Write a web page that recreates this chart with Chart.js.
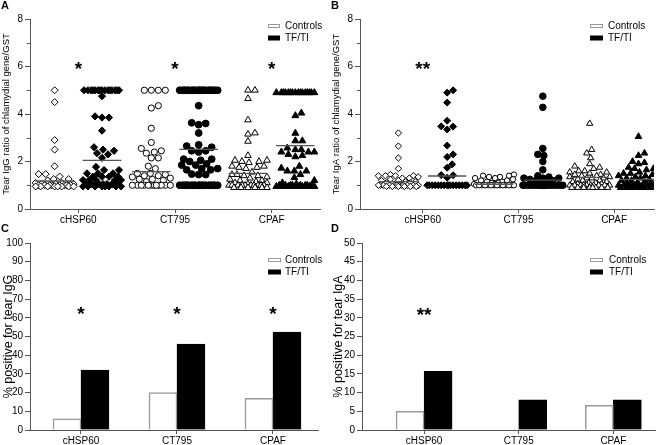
<!DOCTYPE html>
<html><head><meta charset="utf-8">
<script src="https://cdn.jsdelivr.net/npm/chart.js@4.4.0/dist/chart.umd.min.js"></script>
<style>
html,body{margin:0;padding:0;background:#fff;}
#wrap{position:relative;width:659px;height:445px;overflow:hidden;background:#fff;}
.p{position:absolute;}
</style></head><body>
<div id="wrap">
 <div class="p" style="left:0;top:0;width:330px;height:226px"><canvas id="cA"></canvas></div>
 <div class="p" style="left:330px;top:0;width:329px;height:226px"><canvas id="cB"></canvas></div>
 <div class="p" style="left:0;top:220px;width:330px;height:225px"><canvas id="cC"></canvas></div>
 <div class="p" style="left:330px;top:220px;width:329px;height:225px"><canvas id="cD"></canvas></div>
</div>
<script>
// ---------- DATA ----------
const categories = ['cHSP60', 'CT795', 'CPAF'];
const seriesNames = ['Controls', 'TF/TI'];

// Panel A: tear IgG ratio of chlamydial gene/GST
const igG_cHSP60_controls = [5.0, 4.5, 2.9, 2.5, 1.8, 1.47, 1.47, 1.37, 1.26, 1.26, 1.2, 1.1, 1.1, 1.05, 1.05, 1.05, 1.0, 1.0, 1.0, 1.0, 1.0, 1.0, 1.0, 1.0, 0.95, 0.95, 0.95, 0.95, 0.95, 0.95, 0.95, 0.95];
const igG_cHSP60_tfti = [5.0, 5.0, 5.0, 5.0, 5.0, 5.0, 5.0, 5.0, 5.0, 5.0, 5.0, 5.0, 5.0, 5.0, 5.0, 4.75, 3.9, 3.85, 3.85, 3.3, 2.6, 2.5, 2.45, 2.35, 2.3, 2.15, 1.77, 1.64, 1.64, 1.5, 1.5, 1.5, 1.36, 1.36, 1.36, 1.36, 1.22, 1.22, 1.22, 1.22, 1.22, 1.05, 1.05, 1.05, 1.05, 1.05, 1.05, 1.05, 0.95, 0.95, 0.95, 0.95, 0.95, 0.95, 0.95, 0.95];
const igG_CT795_controls = [5.0, 5.0, 5.0, 5.0, 4.35, 4.25, 3.4, 2.8, 2.55, 2.45, 2.4, 2.35, 2.15, 2.15, 1.8, 1.7, 1.5, 1.5, 1.45, 1.4, 1.4, 1.35, 1.3, 1.25, 1.25, 1.2, 1.15, 1.0, 1.0, 1.0, 1.0, 1.0, 1.0, 1.0, 1.0, 1.0, 1.0, 1.0, 1.0];
const igG_CT795_tfti = [5.0, 5.0, 5.0, 5.0, 5.0, 5.0, 5.0, 5.0, 5.0, 5.0, 5.0, 5.0, 5.0, 5.0, 5.0, 5.0, 5.0, 5.0, 4.35, 3.63, 3.6, 3.55, 3.2, 2.7, 2.65, 2.6, 2.45, 2.45, 2.4, 2.1, 2.1, 2.05, 2.0, 1.9, 1.85, 1.85, 1.7, 1.7, 1.65, 1.65, 1.47, 1.45, 1.45, 1.0, 1.0, 1.0, 1.0, 1.0, 1.0, 1.0, 1.0, 1.0, 1.0, 1.0, 1.0, 1.0, 1.0, 1.0, 1.0, 1.0, 1.0];
const igG_CPAF_controls = [5.0, 5.0, 4.65, 3.75, 3.2, 3.15, 2.85, 2.25, 2.05, 2.05, 2.0, 2.0, 1.95, 1.8, 1.8, 1.75, 1.75, 1.7, 1.55, 1.45, 1.45, 1.4, 1.4, 1.35, 1.3, 1.25, 1.2, 1.2, 1.15, 1.1, 1.1, 1.05, 1.0, 1.0, 1.0, 1.0, 1.0, 1.0, 1.0, 1.0, 1.0, 1.0, 0.9, 0.9, 0.9, 0.9, 0.9, 0.9];
const igG_CPAF_tfti = [4.9, 4.9, 4.9, 4.9, 4.9, 4.9, 4.9, 4.9, 4.9, 4.9, 4.9, 4.9, 4.9, 4.9, 4.9, 4.9, 4.04, 3.93, 3.19, 2.87, 2.87, 2.57, 2.5, 2.5, 2.4, 2.4, 2.4, 2.3, 2.25, 2.2, 1.8, 1.72, 1.6, 1.6, 1.6, 1.45, 1.32, 1.2, 1.1, 1.05, 1.0, 1.0, 1.0, 1.0, 1.0, 1.0, 1.0, 1.0, 0.95, 0.95, 0.95, 0.95, 0.95, 0.95, 0.95, 0.95];
const igG_lines_controls = [1.18, 1.57, 1.5];
const igG_lines_tfti = [2.05, 2.51, 2.67];

// Panel B: tear IgA ratio of chlamydial gene/GST
const igA_cHSP60_controls = [3.2, 2.65, 2.15, 1.7, 1.45, 1.4, 1.4, 1.4, 1.4, 1.35, 1.3, 1.3, 1.25, 1.2, 1.2, 1.15, 1.15, 1.1, 1.1, 1.05, 1.0, 1.0, 1.0, 1.0, 1.0, 1.0, 1.0, 1.0, 1.0, 1.0, 1.0, 1.0, 0.95, 0.95, 0.95, 0.95, 0.95, 0.95];
const igA_cHSP60_tfti = [5.0, 4.9, 4.48, 3.72, 3.48, 3.47, 3.35, 2.67, 2.3, 2.19, 1.88, 1.74, 1.43, 1.42, 1.32, 1.0, 1.0, 1.0, 1.0, 1.0, 1.0, 1.0, 1.0, 1.0, 1.0, 1.0, 1.0, 1.0, 1.0, 1.0, 1.0];
const igA_CT795_controls = [1.45, 1.4, 1.4, 1.35, 1.35, 1.3, 1.3, 1.25, 1.2, 1.2, 1.15, 1.15, 1.1, 1.1, 1.05, 1.05, 1.0, 1.0, 1.0, 1.0, 1.0, 1.0, 1.0, 1.0, 1.0, 1.0, 1.0, 1.0, 1.0, 1.0];
const igA_CT795_tfti = [4.75, 4.28, 2.55, 2.3, 2.25, 2.0, 1.65, 1.4, 1.35, 1.3, 1.3, 1.3, 1.25, 1.2, 1.2, 1.15, 1.1, 1.0, 1.0, 1.0, 1.0, 1.0, 1.0, 1.0, 1.0, 1.0, 1.0, 1.0, 1.0, 1.0, 1.0, 1.0, 1.0, 1.0, 1.0];
const igA_CPAF_controls = [3.6, 2.5, 2.35, 2.15, 1.9, 1.8, 1.75, 1.7, 1.6, 1.6, 1.55, 1.55, 1.5, 1.45, 1.45, 1.4, 1.4, 1.35, 1.35, 1.3, 1.3, 1.3, 1.25, 1.2, 1.2, 1.15, 1.15, 1.1, 1.1, 1.05, 1.05, 1.0, 1.0, 1.0, 1.0, 1.0, 1.0, 1.0, 1.0, 1.0, 1.0, 0.9, 0.9, 0.9, 0.9, 0.9, 0.9, 0.9, 0.9];
const igA_CPAF_tfti = [3.05, 2.35, 2.25, 2.0, 1.95, 1.9, 1.75, 1.7, 1.7, 1.65, 1.55, 1.5, 1.5, 1.45, 1.4, 1.4, 1.35, 1.35, 1.3, 1.3, 1.25, 1.2, 1.2, 1.15, 1.15, 1.1, 1.1, 1.05, 1.0, 1.0, 1.0, 1.0, 1.0, 1.0, 1.0, 1.0, 1.0, 1.0, 0.9, 0.9, 0.9, 0.9, 0.9, 0.9, 0.9, 0.9];
const igA_lines_controls = [1.15, 1.04, 1.33];
const igA_lines_tfti = [1.39, 1.22, 1.25];

// Panel C / D: % positive
const pctIgG_controls = [6, 20, 17];
const pctIgG_tfti = [32, 46, 52.4];
const pctIgA_controls = [5, 0, 6.6];
const pctIgA_tfti = [15.7, 8.1, 8.1];

// significance marks
const sigIgG = ['*', '*', '*'];
const sigIgA = ['**', '', ''];

// ---------- STYLE / HELPERS ----------
const NARROW = "'Liberation Sans Narrow','Liberation Sans',Arial,sans-serif";
const REG = "'Liberation Sans',Arial,sans-serif";
Chart.defaults.font.family = NARROW;
Chart.defaults.color = '#000';
const AXIS = '#555';

const panelDecor = {
  id: 'panelDecor',
  afterDraw(chart, args, o) {
    if (!o || !o.letter) return;
    const ctx = chart.ctx;
    const xs = chart.scales.x, ys = chart.scales.y;
    ctx.save();
    // minor ticks (shorter)
    if (o.minor) {
      ctx.strokeStyle = AXIS; ctx.lineWidth = 1;
      ys.ticks.forEach(t => {
        if (t.label !== '') return;
        const y = Math.round(ys.getPixelForValue(t.value)) + 0.5;
        ctx.beginPath(); ctx.moveTo(chart.chartArea.left - 3, y); ctx.lineTo(chart.chartArea.left, y); ctx.stroke();
      });
    }
    ctx.fillStyle = '#000';
    ctx.font = "bold 11px " + REG;
    ctx.textAlign = 'left'; ctx.textBaseline = 'alphabetic';
    ctx.fillText(o.letter, o.letterX, o.letterY);
    const lg = o.legend;
    ctx.font = "10px " + NARROW;
    ctx.textBaseline = 'middle';
    seriesNames.forEach((name, k) => {
      const y = lg.y + k * lg.dy;
      if (k === 0) { ctx.strokeStyle = '#999'; ctx.lineWidth = 1; ctx.strokeRect(Math.round(lg.x) + 0.5, Math.round(y - 2) + 0.5, lg.w, 3); }
      else { ctx.fillStyle = '#000'; ctx.fillRect(lg.x, y - 2.5, lg.w + 1, 5); }
      ctx.fillStyle = '#000';
      ctx.fillText(name, lg.tx, y);
    });
    ctx.font = "bold 19px " + REG;
    ctx.textAlign = 'center'; ctx.textBaseline = 'alphabetic';
    o.sig.forEach((s, i) => { if (!s) return; ctx.fillText(s, xs.getPixelForValue(i), ys.getPixelForValue(o.sigY) + 11); });
    ctx.restore();
  }
};
Chart.register(panelDecor);

// deterministic beeswarm: horizontal offsets computed from the values
function swarm(values, center, pxX, pxY, maxHalf, dot) {
  const order = values.map((v, i) => i).sort((a, b) => values[a] - values[b]);
  const placed = [];
  const out = new Array(values.length);
  for (const i of order) {
    const py = values[i] * pxY;
    let best = 0, bestScore = -1, found = null;
    for (let k = 0; k <= 2 * maxHalf; k++) {
      const off = k % 2 ? (k + 1) / 2 : -k / 2;
      let md = Infinity;
      for (const p of placed) { const d = Math.hypot(p.x - off, p.y - py); if (d < md) md = d; }
      if (md >= dot) { found = off; break; }
      if (md > bestScore + 0.01) { bestScore = md; best = off; }
    }
    const off = found !== null ? found : best;
    placed.push({ x: off, y: py });
    out[i] = { x: center + off / pxX, y: values[i] };
  }
  return out;
}

function xAxis(min, max, h) {
  return {
    type: 'linear', min, max, offset: false,
    afterBuildTicks: s => { s.ticks = categories.map((c, i) => ({ value: i })); },
    ticks: { callback: v => categories[v], font: { size: 10 }, color: '#000', padding: 1, autoSkip: false, maxRotation: 0, minRotation: 0 },
    grid: { drawOnChartArea: false, tickLength: 4, color: AXIS, offset: false },
    border: { color: AXIS, width: 1 },
    afterFit: s => { s.height = h; }
  };
}
function yAxis(max, step, labelEvery, title, titleSize, w) {
  return {
    min: 0, max,
    ticks: { stepSize: step, callback: v => (Math.round(v / step) % labelEvery === 0 ? v : ''), font: { size: 10 }, color: '#000', padding: 2 },
    grid: { drawOnChartArea: false, tickLength: 5, color: AXIS,
            tickColor: c => (c.tick && c.tick.label === '' ? 'rgba(0,0,0,0)' : AXIS) },
    border: { color: AXIS, width: 1 },
    title: { display: true, text: title, font: { size: titleSize, family: REG }, color: '#000', padding: { top: 1, bottom: 0 } },
    afterFit: s => { s.width = w; }
  };
}

function scatterPanel(id, groups, linesC, linesT, cfg) {
  const styles = ['rectRot', 'circle', 'triangle'];
  const datasets = [];
  categories.forEach((c, i) => {
    [0, 1].forEach(k => {
      const center = i + (k === 0 ? -cfg.off : cfg.off);
      const vals = groups[i][k];
      datasets.push({
        type: 'scatter', order: 2,
        data: swarm(vals, center, cfg.pxX, cfg.pxY, cfg.maxHalf, cfg.dot),
        pointStyle: styles[i],
        pointRadius: cfg.radius[i][k],
        pointBorderWidth: 1,
        pointBorderColor: '#000',
        pointBackgroundColor: k === 0 ? '#fff' : '#000'
      });
      const m = (k === 0 ? linesC : linesT)[i];
      datasets.push({
        type: 'line', order: 1,
        data: [{ x: center - cfg.lineHalf, y: m }, { x: center + cfg.lineHalf, y: m }],
        borderColor: '#555', borderWidth: 1.3, pointRadius: 0, fill: false
      });
    });
  });
  return new Chart(document.getElementById(id), {
    type: 'scatter',
    data: { datasets },
    options: {
      responsive: true, maintainAspectRatio: false, animation: false, events: [],
      layout: { padding: cfg.padding },
      scales: { x: xAxis(cfg.xmin, cfg.xmax, cfg.xh), y: yAxis(8, 1, 2, cfg.title, 9.5, cfg.yw) },
      plugins: { legend: { display: false }, tooltip: { enabled: false }, panelDecor: cfg.decor }
    }
  });
}

function barPanel(id, ctrl, tf, cfg) {
  return new Chart(document.getElementById(id), {
    type: 'bar',
    data: {
      datasets: [
        { label: seriesNames[0], data: ctrl.map((v, i) => ({ x: i, y: v })), backgroundColor: '#fff', borderColor: '#999', borderWidth: 1.5, barThickness: cfg.bw },
        { label: seriesNames[1], data: tf.map((v, i) => ({ x: i, y: v })), backgroundColor: '#000', borderColor: '#000', borderWidth: 1, barThickness: cfg.bw }
      ]
    },
    options: {
      responsive: true, maintainAspectRatio: false, animation: false, events: [],
      layout: { padding: cfg.padding },
      scales: { x: xAxis(cfg.xmin, cfg.xmax, cfg.xh), y: yAxis(cfg.ymax, cfg.step, 1, cfg.title, 12.5, cfg.yw) },
      plugins: { legend: { display: false }, tooltip: { enabled: false }, panelDecor: cfg.decor }
    }
  });
}

scatterPanel('cA',
  [[igG_cHSP60_controls, igG_cHSP60_tfti], [igG_CT795_controls, igG_CT795_tfti], [igG_CPAF_controls, igG_CPAF_tfti]],
  igG_lines_controls, igG_lines_tfti,
  { xmin: -0.5, xmax: 2.5, xh: 17, yw: 30, off: 0.245, pxX: 96.7, pxY: 23.75, maxHalf: 19, dot: 6.5, lineHalf: 0.2,
    radius: [[3.5, 3.6], [3.1, 3.4], [3.8, 4.0]],
    padding: { left: 0, top: 19, right: 10, bottom: 0 },
    title: 'Tear IgG ratio of chlamydial gene/GST',
    decor: { letter: 'A', letterX: 1, letterY: 9, minor: true, legend: { x: 268, w: 11, tx: 285, y: 26, dy: 12 }, sig: sigIgG, sigY: 6.1 } });

scatterPanel('cB',
  [[igA_cHSP60_controls, igA_cHSP60_tfti], [igA_CT795_controls, igA_CT795_tfti], [igA_CPAF_controls, igA_CPAF_tfti]],
  igA_lines_controls, igA_lines_tfti,
  { xmin: -0.656, xmax: 2.417, xh: 17, yw: 30, off: 0.255, pxX: 96, pxY: 23.75, maxHalf: 20, dot: 6, lineHalf: 0.2,
    radius: [[3.2, 3.5], [2.7, 3.3], [3.6, 3.8]],
    padding: { left: 0, top: 19, right: 4, bottom: 0 },
    title: 'Tear IgA ratio of chlamydial gene/GST',
    decor: { letter: 'B', letterX: 1, letterY: 9, minor: true, legend: { x: 260, w: 12, tx: 278, y: 26, dy: 12 }, sig: sigIgA, sigY: 6.1 } });

barPanel('cC', pctIgG_controls, pctIgG_tfti,
  { xmin: -0.531, xmax: 2.469, xh: 15, yw: 30, bw: 28, ymax: 100, step: 10,
    padding: { left: 0, top: 23, right: 12, bottom: 0 },
    title: '% positive for tear IgG',
    decor: { letter: 'C', letterX: 1, letterY: 12, legend: { x: 268, w: 12, tx: 285, y: 40, dy: 12 }, sig: sigIgG, sigY: 64.5 } });

barPanel('cD', pctIgA_controls, pctIgA_tfti,
  { xmin: -0.656, xmax: 2.44, xh: 15, yw: 32, bw: 28, ymax: 50, step: 5,
    padding: { left: 0, top: 23, right: 4, bottom: 0 },
    title: '% positive for tear IgA',
    decor: { letter: 'D', letterX: 1, letterY: 12, legend: { x: 260, w: 12, tx: 279, y: 40, dy: 12 }, sig: sigIgA, sigY: 32 } });
</script>
</body></html>
